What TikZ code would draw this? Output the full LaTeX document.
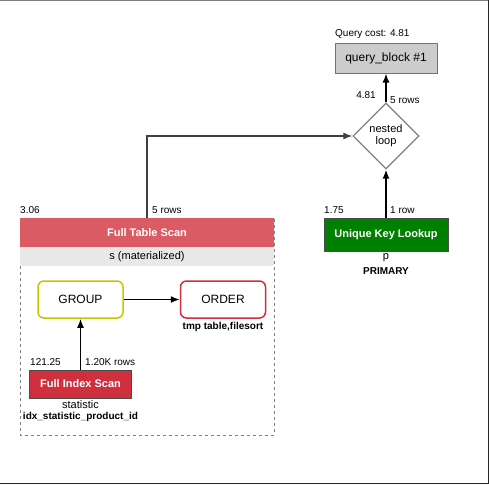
\documentclass[tikz,border=0pt]{standalone}
\usepackage{fontspec}
\setmainfont{Liberation Sans}
\usepackage{xcolor}
\usepackage{tikz}
\usetikzlibrary{shapes.geometric, arrows.meta}

\definecolor{hdrred}{RGB}{218,91,100}
\definecolor{scanred}{RGB}{208,48,62}
\definecolor{lookgreen}{RGB}{0,128,0}
\definecolor{bandgray}{RGB}{232,232,232}
\definecolor{grpyellow}{RGB}{200,196,0}

\begin{document}
\begin{tikzpicture}[x=1pt, y=-1pt, >={Latex[length=9pt,width=7pt]},
        lbl/.style={font=\fontsize{10}{12}\selectfont, inner sep=0pt},
        txt/.style={font=\fontsize{11}{13}\selectfont, inner sep=0pt},
        boldtxt/.style={font=\fontsize{10}{12}\selectfont\bfseries, inner sep=0pt},
        opbox/.style={draw=black!70, font=\fontsize{11}{13}\selectfont\bfseries, text=white, inner sep=0pt},
        sortbox/.style={draw, rounded corners=6pt, line width=1.5pt, minimum width=85, minimum height=37, font=\fontsize{12}{14}\selectfont},
        flow/.style={->, line width=1.5pt}]
        \useasboundingbox (0,0) rectangle (489,485);
        % Frame
        \draw[gray, line width=1pt] (0,0.5) -- (488,0.5);
        \draw[black!85, line width=1pt] (488,0) -- (488,483.5) -- (0,483.5);
        % Query block
        \node[draw=black!55, fill=black!20, line width=1pt, minimum width=102, minimum height=30,
              font=\fontsize{12}{14}\selectfont] (qb) at (386,58) {query\_block \#1};
        \node[lbl, anchor=south west] (qcost) at (335,39) {Query cost: 4.81};
        % Nested loop
        \node[diamond, draw=black!50, line width=1.3pt, aspect=1, minimum width=66, minimum height=66,
              inner sep=0pt, align=center, font=\fontsize{11}{12}\selectfont] (nl) at (386,136) {nested\\loop};
        \node[lbl, anchor=south east] (nlcost) at (376,99) {4.81};
        \node[lbl, anchor=south west] (nlrows) at (390,104) {5 rows};
        % Unique key lookup
        \node[opbox, fill=lookgreen, minimum width=124, minimum height=33] (ukl) at (386,234.5) {Unique Key Lookup};
        \node[txt] (uklt) at (386,258) {p};
        \node[boldtxt] (uklk) at (386,271) {PRIMARY};
        \node[lbl, anchor=south west] (uklcost) at (324,214) {1.75};
        \node[lbl, anchor=south west] (uklrows) at (390,214) {1 row};
        % Materialized table
        \draw[dashed, black!50] (20,218) rectangle (274,435);
        \node[opbox, draw=none, fill=hdrred, minimum width=254, minimum height=29] (fts) at (147,232.5) {Full Table Scan};
        \node[fill=bandgray, minimum width=254, minimum height=19, inner sep=0pt,
              font=\fontsize{11}{13}\selectfont] (band) at (147,256.5) {s (materialized)};
        \node[lbl, anchor=south west] (ftscost) at (20,214) {3.06};
        \node[lbl, anchor=south west] (ftsrows) at (152,214) {5 rows};
        \node[sortbox, draw=grpyellow] (grp) at (80.5,299.5) {GROUP};
        \node[sortbox, draw=scanred] (ord) at (223,299.5) {ORDER};
        \node[boldtxt] (ordx) at (223,327) {tmp table,filesort};
        % Full index scan
        \node[opbox, fill=scanred, minimum width=102, minimum height=28] (fis) at (80.5,384) {Full Index Scan};
        \node[lbl, anchor=south west] (fiscost) at (30,366) {121.25};
        \node[lbl, anchor=south west] (fisrows) at (85,366) {1.20K rows};
        \node[txt] (fist) at (80.5,405) {statistic};
        \node[boldtxt] (fisk) at (80.5,417) {idx\_statistic\_product\_id};
        % Connectors
        \draw[flow] (nl.north) -- (qb.south);
        \draw[flow] (ukl.north) -- (nl.south);
        \draw[flow, black!75, line width=1.2pt] (fts.north) |- (nl.west);
        \draw[flow] (grp.east) -- (ord.west);
        \draw[flow] (fis.north) -- (grp.south);
\end{tikzpicture}
\end{document}
